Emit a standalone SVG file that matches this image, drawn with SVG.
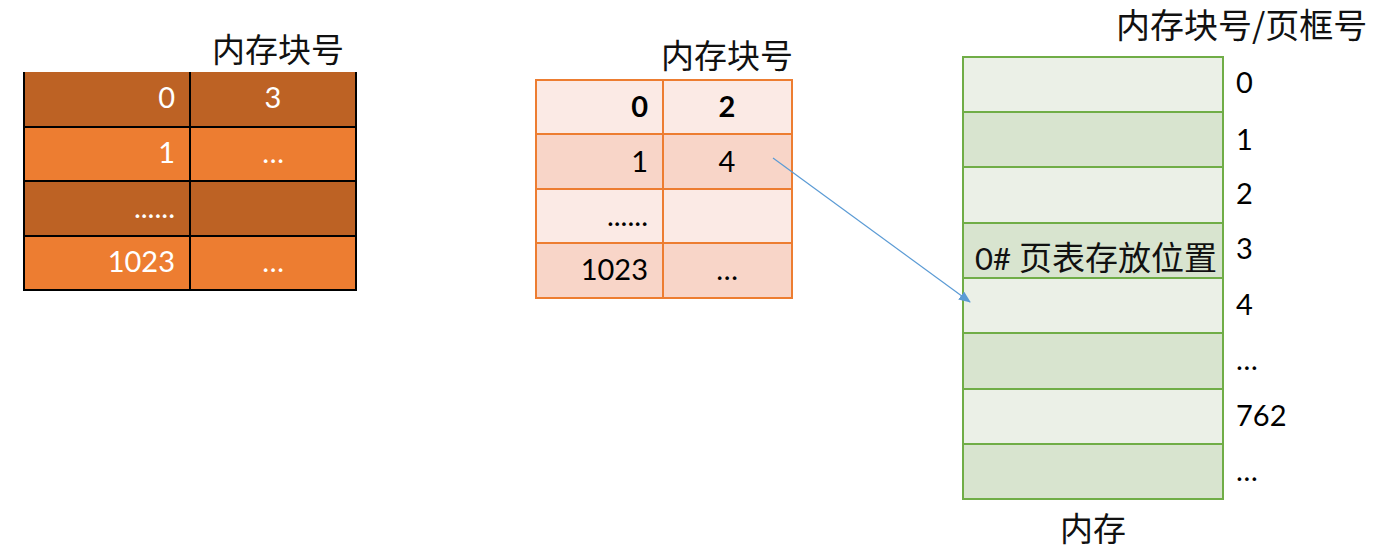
<svg xmlns="http://www.w3.org/2000/svg" width="1382" height="552" viewBox="0 0 1382 552">
<style>
.cjk{font-family:"Noto Sans CJK SC","Noto Sans CJK JP",sans-serif;font-size:33px;fill:#111}
.num{font-family:Lato,"Open Sans","Liberation Sans",sans-serif;font-size:29px}
.w{fill:#fff}
.k{fill:#000}
.r{text-anchor:end}
.c{text-anchor:middle}
.b{font-weight:bold}
.gl{stroke:#000;stroke-width:2}
.ol{stroke:#ED7D31;stroke-width:2;fill:none}
.gr{stroke:#70AD47;stroke-width:2;fill:none}
</style>
<defs>
<marker id="ah" markerWidth="12" markerHeight="10" refX="11" refY="5" orient="auto" markerUnits="userSpaceOnUse">
<path d="M0,0 L12,5 L0,10 Z" fill="#5B9BD5"/>
</marker>
</defs>

<g id="table1">
<text class="cjk" x="212" y="62">内存块号</text>
<rect x="23" y="72" width="334" height="55" fill="#BD6224"/>
<rect x="23" y="127" width="334" height="54" fill="#ED7D31"/>
<rect x="23" y="181" width="334" height="55" fill="#BD6224"/>
<rect x="23" y="236" width="334" height="54" fill="#ED7D31"/>
<path class="gl" d="M24,72 V291 M356,72 V291 M190,72 V290 M23,127 H357 M23,181 H357 M23,236 H357 M23,290 H357"/>
<text class="num w r" x="175" y="108">0</text>
<text class="num w c" x="273" y="108">3</text>
<text class="num w r" x="175" y="163">1</text>
<text class="num w c" x="273" y="163">…</text>
<text class="num w r" x="175" y="218">......</text>
<text class="num w r" x="175" y="272">1023</text>
<text class="num w c" x="273" y="272">…</text>
</g>

<g id="table2">
<text class="cjk" x="661" y="68">内存块号</text>
<rect x="536" y="80" width="256" height="54" fill="#FBEAE5"/>
<rect x="536" y="134" width="256" height="55" fill="#F8D5C8"/>
<rect x="536" y="189" width="256" height="54" fill="#FBEAE5"/>
<rect x="536" y="243" width="256" height="55" fill="#F8D5C8"/>
<rect class="ol" x="536" y="80" width="256" height="218"/>
<path class="ol" d="M663,80 V298 M536,134 H792 M536,189 H792 M536,243 H792"/>
<text class="num k r b" x="648" y="117">0</text>
<text class="num k c b" x="727" y="117">2</text>
<text class="num k r" x="648" y="172">1</text>
<text class="num k c" x="727" y="172">4</text>
<text class="num k r" x="648" y="226">......</text>
<text class="num k r" x="648" y="280">1023</text>
<text class="num k c" x="727" y="280">…</text>
</g>

<g id="memory">
<text class="cjk" x="1116" y="38" style="font-size:34px">内存块号/页框号</text>
<rect x="963" y="57" width="260" height="55" fill="#EBF0E7"/>
<rect x="963" y="112" width="260" height="55" fill="#D8E4CF"/>
<rect x="963" y="167" width="260" height="56" fill="#EBF0E7"/>
<rect x="963" y="223" width="260" height="55" fill="#D8E4CF"/>
<rect x="963" y="278" width="260" height="55" fill="#EBF0E7"/>
<rect x="963" y="333" width="260" height="56" fill="#D8E4CF"/>
<rect x="963" y="389" width="260" height="55" fill="#EBF0E7"/>
<rect x="963" y="444" width="260" height="55" fill="#D8E4CF"/>
<rect class="gr" x="963" y="57" width="260" height="442"/>
<path class="gr" d="M963,112 H1223 M963,167 H1223 M963,223 H1223 M963,278 H1223 M963,333 H1223 M963,389 H1223 M963,444 H1223"/>
<text x="975" y="270" style="font-family:Lato,'Noto Sans CJK SC',sans-serif;font-size:31px;fill:#111">0# <tspan style="font-family:'Noto Sans CJK SC',sans-serif;font-size:33px">页表存放位置</tspan></text>
<text class="num k" x="1236" y="93">0</text>
<text class="num k" x="1236" y="150">1</text>
<text class="num k" x="1236" y="204">2</text>
<text class="num k" x="1236" y="259">3</text>
<text class="num k" x="1236" y="315">4</text>
<text class="num k" x="1236" y="370">…</text>
<text class="num k" x="1236" y="426">762</text>
<text class="num k" x="1236" y="481">…</text>
<text class="cjk c" x="1093" y="541">内存</text>
</g>

<g id="connectors">
<line x1="773" y1="158" x2="970" y2="302" stroke="#5B9BD5" stroke-width="1.2" marker-end="url(#ah)"/>
</g>
</svg>
